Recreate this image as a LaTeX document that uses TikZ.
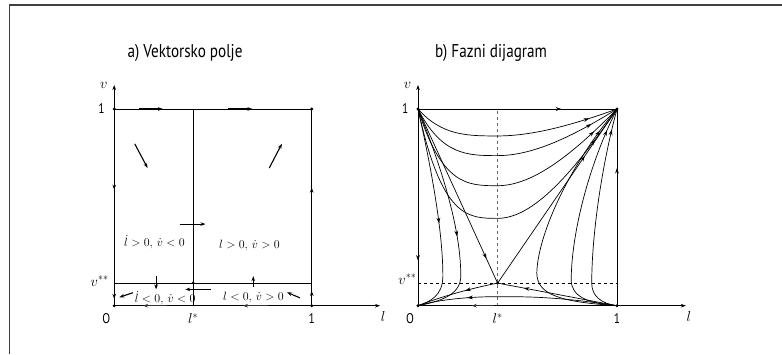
\documentclass[tikz,border=0pt]{standalone}
\usepackage{fontspec}
\setmainfont{PT Sans}[FakeStretch=0.82]
\usetikzlibrary{decorations.markings, arrows.meta}

\begin{document}
\begin{tikzpicture}[x=1pt, y=1pt, >={Stealth[length=5pt, width=3.6pt]}, line width=0.7pt,
    axis/.style={->, line width=0.8pt},
    vec/.style={->, line width=1.1pt},
    flow/.style={postaction={decorate, decoration={markings,
        mark=at position #1 with {\arrow{Stealth[length=5.5pt, width=3.8pt]}}}}},
    lab/.style={font=\fontsize{14}{14}\selectfont},
    reg/.style={font=\fontsize{12}{12}\selectfont, inner sep=0pt},
    title/.style={font=\fontsize{18.5}{18.5}\selectfont}]
  \useasboundingbox (0,0) rectangle (782,354);
  % okvir
  \draw[line width=1.3pt, black!75] (9.5,0) -- (9.5,349) -- (782,349);

  % naslovi
  \node[title] (ta) at (185,301) {a) Vektorsko polje};
  \node[title] (tb) at (491,301) {b) Fazni dijagram};

  % ---------------- a) vektorsko polje ----------------
  \begin{scope}[shift={(114.2,48.3)}, x=197.5pt, y=196.7pt]
    % 1. osi i oznake
    \draw[axis] (0,0) -- (1.346,0) node[lab, right, yshift=-11pt, xshift=-3pt] {$l$};
    \draw[axis] (0,0) -- (0,1.122) node[lab, left, xshift=-3pt] {$v$};
    \node[lab, anchor=east] at (-0.03,1) {1};
    \node[lab, anchor=east] at (-0.01,0.125) {$v^{**}$};
    \node[lab, below] at (-0.04,-0.02) {O};
    \node[lab, below] at (0.4,-0.02) {$l^{*}$};
    \node[lab, below] at (1,-0.02) {1};

    % 2. rubovi i nulklinale
    \draw (0,1) -- (1,1) -- (1,0);
    \draw (0.4,0) -- (0.4,1);
    \draw (0,0.115) -- (1,0.115);

    % 3. strelice na rubovima
    \draw[vec] (0.126,1) -- (0.247,1);
    \draw[vec] (0.577,1) -- (0.70,1);
    \draw[vec] (0,0.64) -- (0,0.59);
    \draw[vec] (0,0.08) -- (0,0.035);
    \draw[vec] (1,0.52) -- (1,0.60);
    \draw[vec] (1,0.02) -- (1,0.075);
    \draw[vec, black!80] (0.267,0) -- (0.146,0);
    \draw[vec, black!80] (0.78,0) -- (0.652,0);

    % 4. vektori u podrucjima
    \draw[vec] (0.104,0.823) -- (0.169,0.70);
    \draw[vec] (0.785,0.70) -- (0.849,0.823);
    \draw[vec] (0.331,0.415) -- (0.462,0.415);
    \draw[vec] (0.212,0.150) -- (0.212,0.083);
    \draw[vec] (0.704,0.095) -- (0.704,0.150);
    \draw[vec] (0.49,0.083) -- (0.36,0.083);
    \draw[vec] (0.095,0.066) -- (0.026,0.043);
    \draw[vec] (0.94,0.040) -- (0.875,0.068);

    % 5. oznake podrucja
    \node[reg] at (0.204,0.322) {$\dot{l} > 0,\, \dot{v} < 0$};
    \node[reg] at (0.685,0.305) {$l > 0,\, \dot{v} > 0$};
    \node[reg] at (0.258,0.040) {$\dot{l} < 0,\, \dot{v} < 0$};
    \node[reg] at (0.705,0.040) {$l < 0,\, \dot{v} > 0$};

    % 6. ravnotezne tocke
    \foreach \p in {(0,0),(1,0),(0,1),(1,1),(0.4,0.115)}
      \fill \p circle (1.6pt);
  \end{scope}

  % ---------------- b) fazni dijagram ----------------
  \begin{scope}[shift={(418,48.3)}, x=199pt, y=196.7pt]
    % 1. pomocne crtkane linije
    \draw[dashed, thin, black!60] (0.4,0) -- (0.4,1);
    \draw[dashed, thin] (0,0.115) -- (1,0.115);

    % 2. osi i oznake
    \draw[axis] (0,0) -- (1.346,0) node[lab, right, yshift=-11pt, xshift=-3pt] {$l$};
    \draw[axis] (0,0) -- (0,1.122) node[lab, left, xshift=-3pt] {$v$};
    \node[lab, anchor=east] at (-0.03,1) {1};
    \node[lab, anchor=east] at (0.01,0.135) {$v^{**}$};
    \node[lab, below] at (-0.04,-0.02) {O};
    \node[lab, below] at (0.4,-0.02) {$l^{*}$};
    \node[lab, below] at (1,-0.02) {1};

    % 3. rubne putanje
    \draw[flow=0.72] (0,1) -- (1,1);
    \draw[flow=0.77] (0,1) -- (0,0);
    \draw[flow=0.70] (1,0) -- (1,1);
    \draw[->, line width=1.1pt, black!80] (0.38,0) -- (0.27,0);

    % 4. putanje iz (0,1) u (1,1)
    \foreach \m/\p in {0.863/0.86, 0.763/0.87, 0.61/0.88, 0.444/0.88}
      \draw[flow=\p] (0,1) .. controls (0.12,\m) and (0.25,\m) .. (0.4,\m)
        .. controls (0.58,\m) and (0.78,{\m+0.42*(1-\m)}) .. (1,1);

    % 5. separatrise kroz sedlo
    \draw[flow=0.86] (0,1) -- (0.4,0.115);
    \draw[flow=0.73] (0.4,0.115) -- (1,1);
    \draw[flow=0.40] (0.4,0.115) .. controls (0.25,0.085) and (0.1,0.04) .. (0,0);
    \draw[flow=0.78] (1,0) -- (0.4,0.115);

    % 6. putanje prema (0,0)
    \draw[flow=0.55] (0,1) .. controls (0.1,0.55) and (0.125,0.3) .. (0.125,0.15)
      .. controls (0.125,0.05) and (0.06,0.02) .. (0,0);
    \draw[flow=0.58] (0,1) .. controls (0.18,0.55) and (0.215,0.3) .. (0.215,0.15)
      .. controls (0.215,0.05) and (0.1,0.02) .. (0,0);
    \draw[flow=0.75] (1,0) .. controls (0.7,0.046) and (0.55,0.046) .. (0.4,0.046)
      .. controls (0.25,0.046) and (0.1,0.03) .. (0,0);

    % 7. putanje iz (1,0) u (1,1)
    \draw[flow=0.9] (1,0) .. controls (0.7,0.02) and (0.6,0.06) .. (0.597,0.165)
      .. controls (0.6,0.35) and (0.75,0.7) .. (1,1);
    \draw[flow=0.9] (1,0) .. controls (0.85,0.01) and (0.77,0.05) .. (0.77,0.13)
      .. controls (0.77,0.35) and (0.85,0.7) .. (1,1);
    \draw[flow=0.9] (1,0) .. controls (0.92,0.01) and (0.873,0.05) .. (0.873,0.114)
      .. controls (0.873,0.35) and (0.92,0.7) .. (1,1);

    % 8. ravnotezne tocke
    \foreach \p in {(0,0),(1,0),(0,1),(1,1),(0.4,0.115)}
      \fill \p circle (1.6pt);
  \end{scope}
\end{tikzpicture}
\end{document}
